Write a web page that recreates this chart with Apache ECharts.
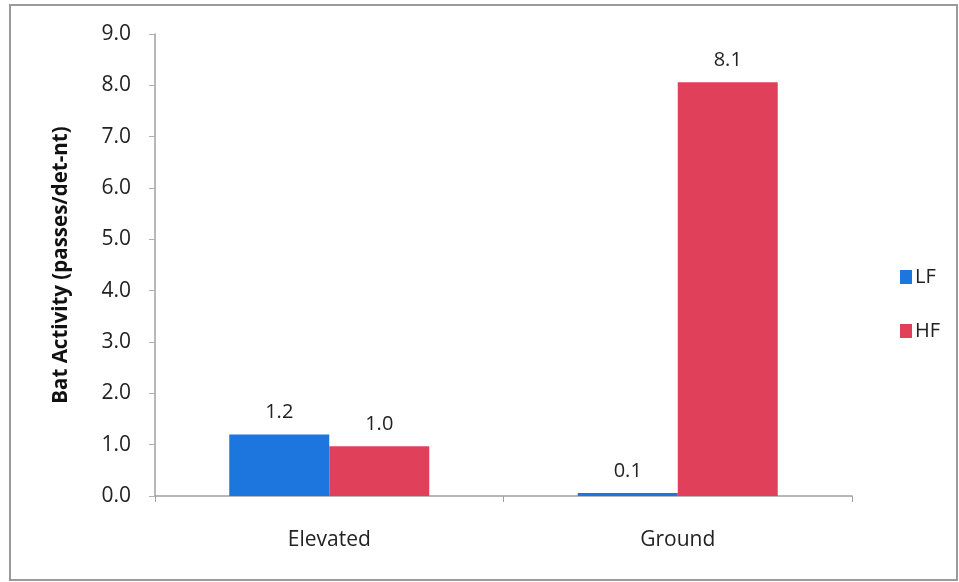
<!DOCTYPE html>
<html>
<head>
<meta charset="utf-8">
<script src="https://cdn.jsdelivr.net/npm/echarts@6/dist/echarts.min.js"></script>
<style>
  html, body { margin: 0; padding: 0; background: #fff; }
  #chart { width: 959px; height: 582px; }
</style>
</head>
<body>
<div id="chart"></div>
<script>
// Bat activity by detector placement, low- vs high-frequency bats
const categories = ['Elevated', 'Ground'];
const lfValues = [1.2, 0.06];
const hfValues = [0.97, 8.06];
const yTicks = [0, 1, 2, 3, 4, 5, 6, 7, 8, 9];

const FONT = '"Open Sans", "Liberation Sans", sans-serif';
const chart = echarts.init(document.getElementById('chart'));

const labelStyle = {
  show: true,
  position: 'top',
  distance: 12,
  color: '#222',
  fontFamily: FONT,
  fontSize: 20,
  formatter: p => p.value.toFixed(1)
};

chart.setOption({
  animation: false,
  backgroundColor: '#fff',
  graphic: [{
    type: 'rect',
    shape: { x: 10, y: 5, width: 947, height: 575 },
    style: { fill: 'none', stroke: '#9a9a9a', lineWidth: 2 },
    silent: true
  }],
  grid: { left: 155, right: 107, top: 34, bottom: 86 },
  legend: {
    orient: 'vertical',
    left: 895,
    top: 262,
    itemWidth: 12,
    itemHeight: 14,
    itemGap: 34,
    icon: 'rect',
    textStyle: { fontFamily: FONT, fontSize: 20, color: '#222', padding: [0, 0, 0, -2] },
    data: ['LF', 'HF']
  },
  xAxis: {
    type: 'category',
    data: categories,
    axisLine: { lineStyle: { color: '#a0a0a0', width: 1.5 } },
    axisTick: { show: true, length: 6, inside: false, lineStyle: { color: '#a0a0a0' } },
    axisLabel: { color: '#222', fontFamily: FONT, fontSize: 21, margin: 34 }
  },
  yAxis: {
    type: 'value',
    min: yTicks[0],
    max: yTicks[yTicks.length - 1],
    interval: 1,
    name: 'Bat Activity (passes/det-nt)',
    nameLocation: 'middle',
    nameGap: 83,
    nameRotate: 90,
    nameTextStyle: { fontFamily: FONT, fontSize: 20.5, fontWeight: 'bold', color: '#111' },
    splitLine: { show: false },
    axisLine: { show: true, lineStyle: { color: '#a0a0a0', width: 1.5 } },
    axisTick: { show: true, length: 6, lineStyle: { color: '#b0b0b0' } },
    axisLabel: {
      color: '#222',
      fontFamily: FONT,
      fontSize: 21,
      margin: 24,
      formatter: v => v.toFixed(1)
    }
  },
  series: [
    {
      name: 'LF',
      type: 'bar',
      data: lfValues,
      barWidth: 100,
      barGap: '0%',
      itemStyle: { color: '#1d75de' },
      label: labelStyle
    },
    {
      name: 'HF',
      type: 'bar',
      data: hfValues,
      barWidth: 100,
      barGap: '0%',
      itemStyle: { color: '#e0405a' },
      label: labelStyle
    }
  ]
});
</script>
</body>
</html>
